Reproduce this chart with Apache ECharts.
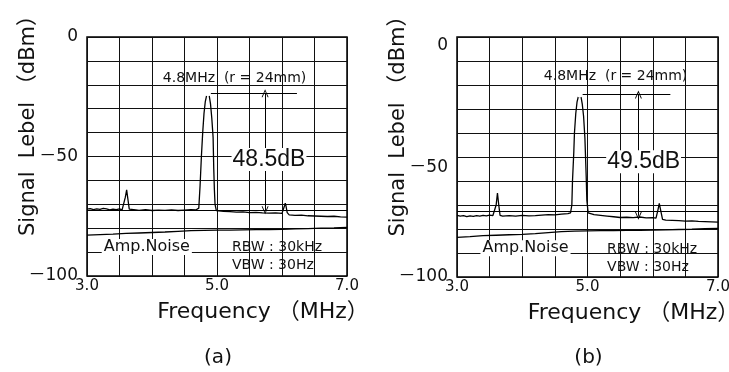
<!DOCTYPE html>
<html><head><meta charset="utf-8">
<script src="https://cdn.jsdelivr.net/npm/echarts@6/dist/echarts.min.js"></script>
<style>html,body{margin:0;padding:0;background:#fff}#c{width:729px;height:372px}</style>
</head><body><div id="c"></div>
<script>
// ---------------- data ----------------
const xTickLabels = {"3": "3.0", "5": "5.0", "7": "7.0"};
const yTickLabels = {"0": "0", "-50": "－50", "-100": "－100"};
const xAxisTitle = "Frequency （MHz）";
const yAxisTitle = "Signal  Lebel （dBm）";
const captions = ["(a)", "(b)"];

// panel (a) measured trace
const sigA_f = [3.00,3.05,3.10,3.15,3.20,3.25,3.30,3.35,3.40,3.45,3.50,3.54,3.57,3.59,3.61,3.63,3.65,3.68,3.75,3.80,3.90,4.00,4.10,4.20,4.30,4.40,4.50,4.60,4.68,4.72,4.73,4.74,4.76,4.78,4.80,4.82,4.84,4.86,4.88,4.90,4.92,4.94,4.95,4.96,4.97,4.99,5.02,5.10,5.20,5.30,5.40,5.50,5.60,5.70,5.80,5.90,6.00,6.02,6.04,6.05,6.06,6.08,6.11,6.20,6.30,6.40,6.50,6.60,6.70,6.80,6.90,7.00];
const sigA_v = [-72.0,-71.8,-72.2,-71.9,-72.1,-71.7,-71.9,-72.3,-72.0,-72.2,-71.9,-72.3,-71.5,-67,-64,-68,-72.0,-72.6,-72.3,-72.5,-72.2,-72.6,-72.4,-72.5,-72.3,-72.6,-72.4,-72.2,-72.3,-71.6,-71.0,-62,-50,-40,-32,-27,-24.5,-23.5,-24.5,-28,-34,-42,-55,-64,-70,-72.6,-72.8,-73.0,-73.1,-73.3,-73.2,-73.5,-73.4,-73.6,-73.7,-73.6,-73.8,-73.3,-70.5,-69.5,-70.5,-73.5,-74.4,-74.6,-74.5,-74.8,-74.9,-75.0,-75.1,-75.0,-75.3,-75.4];
// panel (a) amplifier noise
const noiseA_f = [3.0,3.2,3.4,3.6,3.8,4.0,4.2,4.4,4.6,4.8,5.0,5.2,5.4,5.6,5.8,6.0,6.2,6.4,6.6,6.8,7.0];
const noiseA_v = [-82.9,-82.7,-82.5,-82.2,-82.0,-81.8,-81.6,-81.3,-81.0,-80.9,-80.8,-80.8,-80.7,-80.6,-80.6,-80.5,-80.3,-80.2,-80.0,-79.9,-79.7];

// panel (b) measured trace
const sigB_f = [3.00,3.05,3.10,3.15,3.20,3.25,3.30,3.35,3.40,3.45,3.50,3.55,3.58,3.60,3.62,3.64,3.66,3.70,3.80,3.90,4.00,4.10,4.20,4.30,4.40,4.50,4.60,4.70,4.74,4.76,4.77,4.79,4.80,4.82,4.84,4.86,4.88,4.90,4.92,4.94,4.96,4.98,4.99,5.01,5.10,5.20,5.30,5.40,5.50,5.60,5.70,5.80,5.90,6.00,6.05,6.08,6.10,6.12,6.15,6.20,6.30,6.40,6.50,6.60,6.70,6.80,6.90,7.00];
const sigB_v = [-74.3,-74.6,-74.4,-74.8,-74.5,-74.7,-74.4,-74.6,-74.3,-74.5,-74.2,-74.4,-74.0,-70,-65,-70,-74.3,-74.6,-74.4,-74.6,-74.3,-74.5,-74.4,-74.2,-74.0,-74.1,-73.8,-73.6,-73.3,-70,-60,-48,-40,-32,-27,-24.8,-24,-24.8,-28,-33,-42,-58,-68,-73.3,-74.0,-74.3,-74.6,-74.9,-75.2,-75.1,-75.3,-75.0,-75.4,-75.3,-75.5,-72,-69.3,-72,-76.0,-76.3,-76.4,-76.5,-76.7,-76.6,-76.8,-76.9,-77.0,-77.1];
// panel (b) amplifier noise
const noiseB_f = [3.0,3.2,3.4,3.6,3.8,4.0,4.2,4.4,4.6,4.8,5.0,5.2,5.4,5.6,5.8,6.0,6.2,6.4,6.6,6.8,7.0];
const noiseB_v = [-83.5,-83.2,-82.8,-82.6,-82.4,-82.2,-81.9,-81.5,-81.1,-80.9,-80.8,-80.7,-80.7,-80.6,-80.6,-80.5,-80.4,-80.2,-80.1,-79.9,-79.8];

// marker readings
const peakA = [4.86, -23.5], peakB = [4.88, -24.0];
const floorA = -72.5, floorB = -74.5;      // arrow lower end
const refLine = [-72.5, -72.5];             // extra horizontal display line
const deltaText = ["48.5dB", "49.5dB"];
const peakText = "4.8MHz  (r = 24mm)";
const noiseText = "Amp.Noise";
const rbwText = "RBW : 30kHz";
const vbwText = "VBW : 30Hz";

// ---------------- layout ----------------
const FONT = "'DejaVu Sans','Noto Sans CJK JP',sans-serif";
const FONT2 = "'Liberation Sans','Noto Sans CJK JP',sans-serif";
const CHEV = 'path://M0,10 L5,0 L10,10 L8.6,10 L5,2.6 L1.4,10 Z';
const zip = (a, b) => a.map((x, i) => [x, b[i]]);

const grids = [
  {left: 87, top: 37, width: 260, height: 239},
  {left: 457, top: 37, width: 261, height: 240}
];
// per-panel vertical nudge of y tick labels (scan misalignment in panel b)
const yLabelShift = [{}, {"0": 18, "-50": 22}];
// annotation placements (data coordinates)
const place = [
  {peakLabel:[5.27,-17.2], markEnd:6.23, arrowX:5.74, delta:[5.80,-51.3], noise:[3.92,-87.9], rbw:[5.23,-88.0], vbw:[5.23,-95.4]},
  {peakLabel:[5.43,-16.6], markEnd:6.27, arrowX:5.78, delta:[5.86,-52.0], noise:[4.05,-88.0], rbw:[5.30,-88.3], vbw:[5.30,-96.0]}
];

const sig = [zip(sigA_f, sigA_v), zip(sigB_f, sigB_v)];
const noise = [zip(noiseA_f, noiseA_v), zip(noiseB_f, noiseB_v)];
const peaks = [peakA, peakB];
const floors = [floorA, floorB];

const option = {
  animation: false,
  backgroundColor: '#fff',
  grid: grids.map(g => Object.assign({show: true, borderColor: '#000', borderWidth: 1.5, backgroundColor: 'transparent', containLabel: false, outerBoundsMode: 'none'}, g)),
  xAxis: grids.map((g, i) => ({
    gridIndex: i, type: 'value', min: 3, max: 7, interval: 0.5,
    axisLine: {show: false}, axisTick: {show: false},
    splitLine: {show: true, lineStyle: {color: '#111', width: 1}},
    axisLabel: {formatter: v => xTickLabels[String(v)] || '', fontSize: 15, color: '#111', margin: 3, fontFamily: FONT, hideOverlap: false},
    name: xAxisTitle, nameLocation: 'middle', nameGap: 25, nameMoveOverlap: false,
    nameTextStyle: {fontSize: 22, color: '#111', fontFamily: FONT, padding: [0, 0, 0, 92]}
  })),
  yAxis: grids.map((g, i) => {
    const rich = {};
    Object.keys(yLabelShift[i]).forEach((k, j) => { rich['s' + j] = {padding: [yLabelShift[i][k], 0, 0, 0], fontSize: 17, fontFamily: FONT, color: '#111'}; });
    return {
      gridIndex: i, type: 'value', min: -100, max: 0, interval: 10,
      axisLine: {show: false}, axisTick: {show: false},
      splitLine: {show: true, lineStyle: {color: '#111', width: 1}},
      axisLabel: {
        formatter: v => {
          const t = yTickLabels[String(v)] || '';
          const keys = Object.keys(yLabelShift[i]);
          const j = keys.indexOf(String(v));
          return (t && j >= 0) ? '{s' + j + '|' + t + '}' : t;
        },
        rich, fontSize: 17, color: '#111', margin: 9, fontFamily: FONT
      },
      name: yAxisTitle, nameLocation: 'middle', nameGap: 48, nameRotate: 90, nameMoveOverlap: false,
      nameTextStyle: {fontSize: 21, color: '#111', fontFamily: FONT, padding: [0, 0, 0, 72]}
    };
  }),
  graphic: captions.map((c, i) => ({
    type: 'text', x: grids[i].left + grids[i].width / 2 + 1, y: 358,
    style: {text: c, fontSize: 20, fontFamily: FONT, fill: '#111', align: 'center', verticalAlign: 'middle'}
  })),
  series: []
};

const txt = (coord, text, size, extra) => ({
  coord, symbol: 'rect', symbolSize: 1, itemStyle: {color: 'rgba(0,0,0,0)'},
  label: Object.assign({show: true, position: 'inside', formatter: text, fontSize: size, color: '#111', fontFamily: FONT}, extra || {})
});

for (let i = 0; i < 2; i++) {
  const p = place[i];
  option.series.push({
    type: 'line', xAxisIndex: i, yAxisIndex: i, data: noise[i], symbol: 'none',
    lineStyle: {color: '#000', width: 1.3}, z: 2,
    markLine: {
      silent: true, symbol: ['none', 'none'], label: {show: false},
      lineStyle: {color: '#000', width: 1, type: 'solid'}, emphasis: {disabled: true},
      data: [
        [{coord: peaks[i]}, {coord: [p.markEnd, peaks[i][1]]}],
        [{coord: [p.arrowX, peaks[i][1]], symbol: CHEV, symbolSize: [7, 8]}, {coord: [p.arrowX, floors[i]], symbol: CHEV, symbolSize: [7, 8]}],
        [{coord: [3, refLine[i]]}, {coord: [7, refLine[i]]}]
      ]
    }
  });
  option.series.push({
    type: 'line', xAxisIndex: i, yAxisIndex: i, data: sig[i], symbol: 'none',
    lineStyle: {color: '#000', width: 1.3}, z: 4,
    markPoint: {
      silent: true,
      data: [
        {coord: peaks[i], symbol: 'emptyCircle', symbolSize: 4, itemStyle: {color: '#fff', borderColor: '#000', borderWidth: 1}, label: {show: false}},
        txt(p.peakLabel, peakText, 14),
        txt(p.delta, deltaText[i], 23, {fontFamily: FONT2, backgroundColor: '#fff', padding: [0, 1]}),
        txt(p.noise, noiseText, 16, {backgroundColor: '#fff', padding: [0, 2]}),
        txt(p.rbw, rbwText, 14, {align: 'left'}),
        txt(p.vbw, vbwText, 14, {align: 'left'})
      ]
    }
  });
}

const chart = echarts.init(document.getElementById('c'), null, {renderer: 'canvas'});
chart.setOption(option);
</script>
</body></html>
